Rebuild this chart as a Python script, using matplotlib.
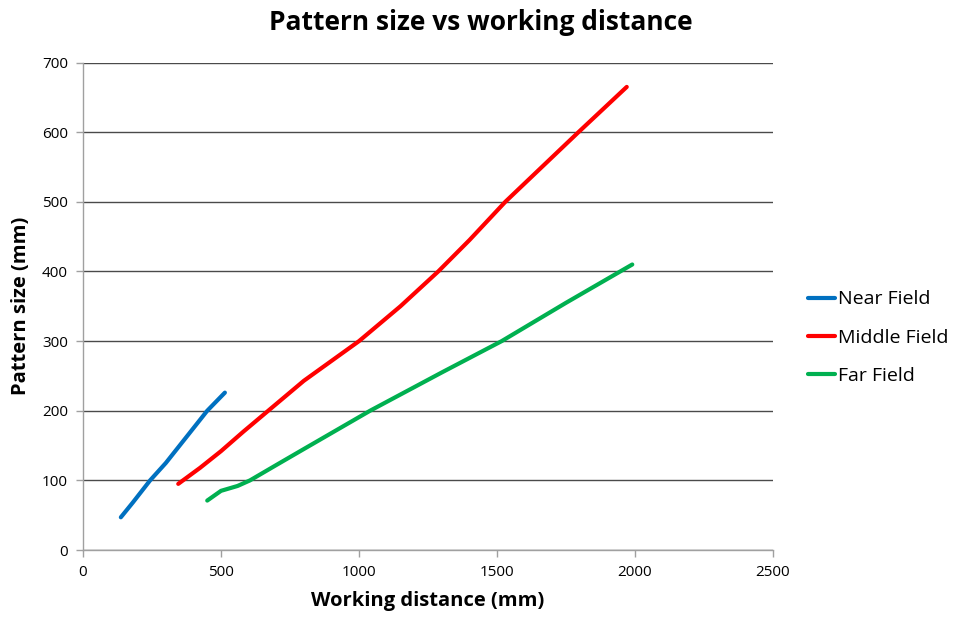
import matplotlib
matplotlib.use("Agg")
import matplotlib.pyplot as plt

# ---- data ----
near_x = [137, 180, 243, 300, 350, 450, 514]
near_y = [47, 68, 100, 125, 150, 200, 226]

middle_x = [345, 424, 500, 581, 671, 800, 1000, 1150, 1287, 1400, 1530, 1795, 1970]
middle_y = [95, 118, 142, 170, 200, 243, 300, 350, 400, 445, 500, 600, 665]

far_x = [450, 500, 560, 605, 700, 800, 1040, 1300, 1517, 1750, 1990]
far_y = [71, 85, 92, 100, 122, 145, 200, 255, 300, 355, 410]

series_names = ["Near Field", "Middle Field", "Far Field"]
x_ticks = [0, 500, 1000, 1500, 2000, 2500]
y_ticks = [0, 100, 200, 300, 400, 500, 600, 700]

title = "Pattern size vs working distance"
x_label = "Working distance (mm)"
y_label = "Pattern size (mm)"

plt.rcParams['font.family'] = ['Open Sans', 'DejaVu Sans']

fig = plt.figure(figsize=(9.61, 6.21), dpi=100)
ax = fig.add_axes([0.0864, 0.1143, 0.718, 0.785])

colors = ["#0070C0", "#FF0000", "#00B050"]
for xs, ys, name, c in zip([near_x, middle_x, far_x], [near_y, middle_y, far_y],
                           series_names, colors):
    ax.plot(xs, ys, color=c, lw=3.0, label=name, solid_capstyle='round',
            solid_joinstyle='round')

ax.set_xlim(0, 2500)
ax.set_ylim(0, 700)
ax.set_xticks(x_ticks)
ax.set_yticks(y_ticks)
ax.yaxis.grid(True, color="#4a4a4a", lw=1.0)
ax.set_axisbelow(True)

for s in ["top", "right"]:
    ax.spines[s].set_visible(False)
for s in ["left", "bottom"]:
    ax.spines[s].set_color("#a0a0a0")
    ax.spines[s].set_linewidth(1.0)
ax.tick_params(axis='both', direction='out', length=5, width=1, color="#a0a0a0",
               labelsize=11, labelcolor="#000000", pad=6)

fig.suptitle(title, x=0.5, y=0.985, fontsize=19, fontweight='bold', va='top')
ax.set_xlabel(x_label, fontsize=14.5, fontweight='bold', labelpad=8)
ax.set_ylabel(y_label, fontsize=14.5, fontweight='bold', labelpad=8)

fig.legend(loc='center left', bbox_to_anchor=(0.841, 0.456), frameon=False,
           borderpad=0, borderaxespad=0,
           fontsize=14, handlelength=1.4, handletextpad=0.15, labelspacing=1.05)

fig.savefig("out.png", dpi=100)
